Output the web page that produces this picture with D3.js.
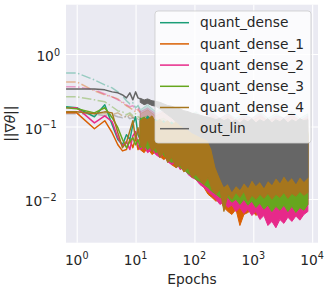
<!DOCTYPE html>
<html><head><meta charset="utf-8">
<script src="https://cdn.jsdelivr.net/npm/d3@7"></script>
<style>
html,body{margin:0;padding:0;background:#fff;}
svg{display:block;font-family:"DejaVu Sans",sans-serif;}
</style></head><body>
<svg id="chart" width="328" height="291"></svg>
<script>
// ---------- data ----------
const seriesNames = ["quant_dense","quant_dense_1","quant_dense_2","quant_dense_3","quant_dense_4","out_lin"];
const seriesColors = ["#1b9e77","#d95f02","#e7298a","#66a61e","#a6761d","#666666"];
const xTickValues = [1,10,100,1000,10000];
const xTickExps = ["0","1","2","3","4"];
const yTickValues = [1,0.1,0.01];
const yTickExps = ["0","\u22121","\u22122"];

// early epochs (distinct lines)
const earlyEpochs = [0.66,1,2,3,4,5,6,7,8,9,10,11,12];
const early_qd  = [0.187,0.181,0.136,0.199,0.106,0.066,0.056,0.077,0.066,0.106,0.136,0.077,0.066];
const early_qd1 = [0.154,0.154,0.093,0.120,0.082,0.056,0.046,0.048,0.066,0.051,0.070,0.048,0.056];
const early_qd2 = [0.181,0.181,0.112,0.140,0.116,0.070,0.054,0.062,0.048,0.074,0.085,0.056,0.048];
const early_qd3 = [0.181,0.175,0.154,0.181,0.132,0.096,0.066,0.051,0.062,0.070,0.056,0.066,0.051];
const early_qd4 = [0.159,0.159,0.150,0.159,0.154,0.082,0.051,0.060,0.087,0.120,0.066,0.096,0.062];
const early_out = [0.330,0.330,0.330,0.320,0.300,0.291,0.273,0.248,0.291,0.233,0.300,0.248,0.240];

// dash-dot (faint) early values
const dd_qd  = [0.548,0.548,0.439,0.375,0.341,0.300,0.264,0.226,0.205,0.212,0.181,0.193,0.170];
const dd_qd1 = [0.412,0.412,0.310,0.273,0.256,0.240,0.212,0.193,0.181,0.170,0.159,0.170,0.154];
const dd_qd2 = [0.352,0.352,0.320,0.281,0.256,0.233,0.219,0.199,0.187,0.193,0.170,0.181,0.159];
const dd_qd3 = [0.256,0.256,0.233,0.219,0.187,0.164,0.159,0.145,0.154,0.140,0.150,0.136,0.132];
const dd_qd4 = [0.159,0.159,0.154,0.150,0.145,0.154,0.140,0.132,0.145,0.132,0.136,0.124,0.128];
const dd_out = [0.150,0.150,0.150,0.140,0.145,0.136,0.132,0.140,0.128,0.132,0.124,0.128,0.120];

// dash-dot noisy range (epochs >= 12)
const ddEpochs = [12,16,22,30,41,57,78,106,145,198,271,371,507,692,947,1295,1770,2419,3307,4523,6183,8450];
const ddHi_qd  = [0.17,0.20,0.16,0.19,0.15,0.17,0.14,0.16,0.13,0.16,0.13,0.15,0.13,0.15,0.13,0.16,0.13,0.15,0.13,0.16,0.13,0.15];
const ddLo_qd  = [0.13,0.10,0.11,0.09,0.10,0.08,0.09,0.075,0.08,0.07,0.075,0.065,0.07,0.065,0.07,0.065,0.07,0.065,0.07,0.065,0.07,0.07];
const ddHi_qd1 = [0.15,0.17,0.14,0.16,0.13,0.15,0.13,0.14,0.12,0.14,0.12,0.14,0.12,0.13,0.12,0.14,0.12,0.13,0.12,0.14,0.12,0.13];
const ddLo_qd1 = [0.11,0.09,0.10,0.08,0.09,0.075,0.08,0.07,0.075,0.065,0.07,0.06,0.065,0.06,0.065,0.06,0.065,0.06,0.065,0.06,0.065,0.065];
const ddHi_qd2 = [0.16,0.18,0.15,0.17,0.14,0.16,0.13,0.15,0.13,0.15,0.13,0.15,0.12,0.14,0.13,0.15,0.12,0.14,0.13,0.15,0.12,0.14];
const ddLo_qd2 = [0.12,0.10,0.10,0.085,0.09,0.08,0.085,0.07,0.075,0.065,0.07,0.062,0.068,0.062,0.066,0.06,0.066,0.06,0.066,0.062,0.066,0.066];
const ddHi_qd3 = [0.13,0.14,0.12,0.13,0.11,0.13,0.11,0.12,0.10,0.12,0.10,0.12,0.10,0.11,0.10,0.12,0.10,0.11,0.10,0.12,0.10,0.11];
const ddLo_qd3 = [0.10,0.09,0.09,0.08,0.085,0.07,0.075,0.065,0.07,0.062,0.066,0.06,0.064,0.06,0.064,0.06,0.064,0.06,0.064,0.06,0.064,0.064];
const ddHi_qd4 = [0.12,0.13,0.11,0.12,0.105,0.12,0.10,0.11,0.10,0.11,0.10,0.11,0.10,0.11,0.10,0.11,0.10,0.11,0.10,0.11,0.10,0.10];
const ddLo_qd4 = [0.09,0.085,0.085,0.075,0.08,0.07,0.072,0.065,0.068,0.062,0.065,0.06,0.063,0.06,0.063,0.06,0.063,0.06,0.063,0.06,0.063,0.063];
const ddHi_out = [0.12,0.125,0.11,0.12,0.10,0.115,0.10,0.11,0.095,0.11,0.095,0.11,0.095,0.105,0.095,0.11,0.095,0.105,0.095,0.11,0.095,0.10];
const ddLo_out = [0.09,0.08,0.08,0.072,0.075,0.068,0.07,0.064,0.066,0.06,0.064,0.058,0.062,0.058,0.062,0.058,0.062,0.058,0.062,0.058,0.062,0.062];

// solid noisy range (epochs >= 12): upper / lower envelopes
const bandEpochs = [12,14,16,19,22,26,30,35,41,49,57,66,78,91,106,124,145,170,198,232,271,317,371,433,507,592,692,810,947,1107,1295,1514,1770,2069,2419,2829,3307,3868,4523,5288,6183,7229,8450];
const hi_qd  = [0.13,0.115,0.14,0.12,0.125,0.11,0.12,0.105,0.115,0.10,0.11,0.10,0.105,0.095,0.10,0.09,0.095,0.09,0.095,0.085,0.09,0.085,0.09,0.08,0.09,0.08,0.085,0.08,0.085,0.08,0.085,0.08,0.085,0.08,0.085,0.08,0.085,0.08,0.085,0.08,0.085,0.08,0.08];
const lo_qd  = [0.0657,0.056,0.0478,0.0526,0.0449,0.0409,0.0372,0.0396,0.0349,0.0317,0.0288,0.0254,0.0238,0.0217,0.0197,0.0185,0.0168,0.0158,0.0144,0.0135,0.0123,0.0116,0.0127,0.0112,0.0119,0.0109,0.0123,0.0105,0.0116,0.0102,0.0112,0.0099,0.0109,0.0096,0.0105,0.0093,0.0102,0.009,0.0099,0.0087,0.0096,0.009,0.0099];
const hi_qd1 = [0.11,0.12,0.10,0.115,0.105,0.11,0.10,0.105,0.095,0.10,0.09,0.095,0.085,0.09,0.085,0.09,0.08,0.085,0.08,0.085,0.075,0.08,0.075,0.08,0.075,0.08,0.075,0.08,0.075,0.08,0.075,0.08,0.075,0.08,0.075,0.08,0.075,0.08,0.075,0.08,0.075,0.08,0.075];
const lo_qd1 = [0.0478,0.0435,0.051,0.0409,0.0449,0.0384,0.0349,0.0372,0.0297,0.027,0.0297,0.0238,0.0254,0.021,0.0185,0.0168,0.0144,0.0116,0.0105,0.0093,0.0099,0.0076,0.0067,0.0061,0.0072,0.0043,0.0061,0.0065,0.0072,0.0059,0.0067,0.0063,0.0072,0.0065,0.0074,0.0067,0.0076,0.007,0.0079,0.0072,0.0082,0.0074,0.0084];
const hi_qd2 = [0.12,0.11,0.125,0.105,0.115,0.10,0.11,0.095,0.105,0.09,0.10,0.09,0.095,0.085,0.09,0.08,0.09,0.08,0.085,0.075,0.085,0.075,0.08,0.075,0.08,0.07,0.08,0.075,0.08,0.07,0.08,0.075,0.08,0.07,0.08,0.075,0.08,0.07,0.08,0.075,0.08,0.07,0.075];
const lo_qd2 = [0.0478,0.0526,0.0435,0.0478,0.0409,0.0372,0.0421,0.0327,0.0297,0.0327,0.0254,0.027,0.0217,0.0197,0.0185,0.0158,0.0144,0.0127,0.0112,0.0099,0.0084,0.009,0.0076,0.0082,0.0067,0.0076,0.0063,0.0072,0.0059,0.0067,0.0052,0.0059,0.0043,0.0049,0.004,0.0052,0.0046,0.0056,0.0049,0.0058,0.0051,0.0061,0.0067];
const hi_qd3 = [0.125,0.135,0.115,0.13,0.11,0.12,0.105,0.115,0.10,0.11,0.095,0.105,0.09,0.10,0.09,0.095,0.085,0.09,0.085,0.09,0.08,0.085,0.08,0.085,0.08,0.085,0.08,0.085,0.08,0.085,0.08,0.085,0.08,0.085,0.08,0.085,0.08,0.085,0.08,0.085,0.08,0.085,0.08];
const lo_qd3 = [0.051,0.056,0.0478,0.0543,0.0435,0.0478,0.0396,0.0349,0.0317,0.0349,0.027,0.0254,0.0224,0.021,0.0185,0.0174,0.0158,0.0144,0.0127,0.0116,0.0105,0.0099,0.0105,0.009,0.0099,0.0084,0.0099,0.0082,0.0093,0.0076,0.0087,0.0072,0.0082,0.0067,0.0079,0.007,0.0082,0.0067,0.0079,0.0065,0.0076,0.007,0.0084];
const hi_qd4 = [0.12,0.13,0.125,0.14,0.115,0.125,0.11,0.12,0.105,0.115,0.10,0.11,0.095,0.105,0.09,0.10,0.09,0.095,0.085,0.095,0.085,0.09,0.085,0.09,0.085,0.09,0.085,0.09,0.085,0.09,0.085,0.09,0.085,0.09,0.085,0.09,0.085,0.09,0.085,0.09,0.085,0.09,0.085];
const lo_qd4 = [0.056,0.0478,0.0657,0.0449,0.051,0.0372,0.0449,0.0317,0.0372,0.027,0.0297,0.0238,0.027,0.0197,0.0217,0.0185,0.0158,0.0197,0.0135,0.0116,0.0135,0.0067,0.0116,0.0099,0.0123,0.0105,0.0127,0.0093,0.0112,0.0099,0.0116,0.0102,0.0119,0.0099,0.0116,0.0105,0.0123,0.0102,0.0119,0.0109,0.0127,0.0112,0.0123];
const hi_out = [0.245,0.232,0.240,0.226,0.222,0.215,0.205,0.195,0.190,0.180,0.175,0.165,0.160,0.152,0.148,0.143,0.138,0.134,0.130,0.124,0.130,0.120,0.128,0.116,0.124,0.112,0.124,0.116,0.128,0.112,0.124,0.116,0.128,0.112,0.124,0.116,0.128,0.112,0.124,0.116,0.128,0.120,0.124];
const lo_out = [0.215,0.200,0.208,0.195,0.190,0.175,0.159,0.145,0.132,0.116,0.106,0.096,0.090,0.0819,0.077,0.0722,0.0678,0.0636,0.0478,0.027,0.0197,0.0148,0.0163,0.0127,0.0153,0.0135,0.0168,0.0144,0.0185,0.0153,0.0174,0.0144,0.018,0.0158,0.0197,0.0168,0.021,0.0174,0.0197,0.0163,0.0203,0.0174,0.0197];

// ---------- assemble ----------
const early = [early_qd,early_qd1,early_qd2,early_qd3,early_qd4,early_out];
const ddEarly = [dd_qd,dd_qd1,dd_qd2,dd_qd3,dd_qd4,dd_out];
const ddHi = [ddHi_qd,ddHi_qd1,ddHi_qd2,ddHi_qd3,ddHi_qd4,ddHi_out];
const ddLo = [ddLo_qd,ddLo_qd1,ddLo_qd2,ddLo_qd3,ddLo_qd4,ddLo_out];
const bandHi = [hi_qd,hi_qd1,hi_qd2,hi_qd3,hi_qd4,hi_out];
const bandLo = [lo_qd,lo_qd1,lo_qd2,lo_qd3,lo_qd4,lo_out];

const L=66, R=318, T=4.7, B=242.7;
const svg = d3.select("#chart");
const x = d3.scaleLog().domain([0.658,12560]).range([L,R]);
const y = d3.scaleLog().domain([0.00249,4.786]).range([B,T]);

svg.append("rect").attr("x",L).attr("y",T).attr("width",R-L).attr("height",B-T).attr("fill","#EAEAF2");
svg.append("defs").append("clipPath").attr("id","clip")
  .append("rect").attr("x",L).attr("y",T).attr("width",R-L).attr("height",B-T);

// grid
const gx = svg.append("g").attr("transform",`translate(0,${B})`)
  .call(d3.axisBottom(x).tickValues(xTickValues).tickSize(-(B-T)).tickFormat(""));
const gy = svg.append("g").attr("transform",`translate(${L},0)`)
  .call(d3.axisLeft(y).tickValues(yTickValues).tickSize(-(R-L)).tickFormat(""));
[gx,gy].forEach(g=>{g.select(".domain").remove();g.selectAll("line").attr("stroke","#ffffff").attr("stroke-width",1.1);});

const plot = svg.append("g").attr("clip-path","url(#clip)");
const line = d3.line().x(d=>x(d[0])).y(d=>y(d[1]));
const area = d3.area().x(d=>x(d[0])).y0(d=>y(d[2])).y1(d=>y(d[1]));

// faint dash-dot series
for (let i=0;i<6;i++){
  const pts = earlyEpochs.map((e,j)=>[e,ddEarly[i][j]]);
  plot.append("path").attr("d",line(pts)).attr("fill","none")
    .attr("stroke",seriesColors[i]).attr("stroke-opacity",0.4).attr("stroke-width",1.5)
    .attr("stroke-dasharray","9.6,2.4,1.5,2.4");
  const n = Math.min(ddEpochs.length, ddHi[i].length, ddLo[i].length);
  const bp = d3.range(n).map(j=>[ddEpochs[j],ddHi[i][j],ddLo[i][j]]);
  plot.append("path").attr("d",area(bp)).attr("fill",seriesColors[i]).attr("fill-opacity",0.2)
    .attr("stroke",seriesColors[i]).attr("stroke-opacity",0.25).attr("stroke-width",0.8);
}

// solid series
for (let i=0;i<6;i++){
  const pts = earlyEpochs.map((e,j)=>[e,early[i][j]]);
  plot.append("path").attr("d",line(pts)).attr("fill","none")
    .attr("stroke",seriesColors[i]).attr("stroke-width",1.5).attr("stroke-linejoin","round");
  const n = Math.min(bandEpochs.length, bandHi[i].length, bandLo[i].length);
  const bp = d3.range(n).map(j=>[bandEpochs[j],bandHi[i][j],bandLo[i][j]]);
  plot.append("path").attr("d",area(bp)).attr("fill",seriesColors[i])
    .attr("stroke",seriesColors[i]).attr("stroke-width",1).attr("stroke-linejoin","round");
}

// tick labels
const FS = 13.75;
const xl = svg.append("g");
xTickValues.forEach((t,i)=>{
  const tx = xl.append("text").attr("x",x(t)).attr("y",265).attr("text-anchor","middle")
    .attr("font-size",FS).attr("fill","#262626");
  tx.append("tspan").text("10");
  tx.append("tspan").attr("dy",-5.7).attr("font-size",FS*0.7).text(xTickExps[i]);
});
yTickValues.forEach((t,i)=>{
  const tx = xl.append("text").attr("x",i===0?60:56.5).attr("y",y(t)+7.5).attr("text-anchor","end")
    .attr("font-size",FS).attr("fill","#262626");
  tx.append("tspan").text("10");
  tx.append("tspan").attr("dy",-5.7).attr("font-size",FS*0.7).text(yTickExps[i]);
});

// axis labels
svg.append("text").attr("x",(L+R)/2).attr("y",284).attr("text-anchor","middle")
  .attr("font-size",FS).attr("fill","#262626").text("Epochs");
const yl = svg.append("text").attr("transform",`translate(14.5,${(T+B)/2}) rotate(-90)`)
  .attr("text-anchor","middle").attr("font-size",FS).attr("fill","#262626");
yl.append("tspan").text("||\u2207");
yl.append("tspan").attr("font-style","italic").text("\u03b8");
yl.append("tspan").text("||");

// legend
const lg = svg.append("g");
lg.append("rect").attr("x",155).attr("y",11).attr("width",156).attr("height",132).attr("rx",3)
  .attr("fill","#ffffff").attr("fill-opacity",0.8).attr("stroke","#cccccc").attr("stroke-opacity",0.8).attr("stroke-width",1);
seriesNames.forEach((nm,i)=>{
  const ry = 22.7 + i*21.2;
  lg.append("line").attr("x1",160).attr("x2",189).attr("y1",ry).attr("y2",ry)
    .attr("stroke",seriesColors[i]).attr("stroke-width",1.5);
  lg.append("text").attr("x",200).attr("y",ry+4.7).attr("font-size",FS).attr("fill","#262626").text(nm);
});
</script>
</body></html>
